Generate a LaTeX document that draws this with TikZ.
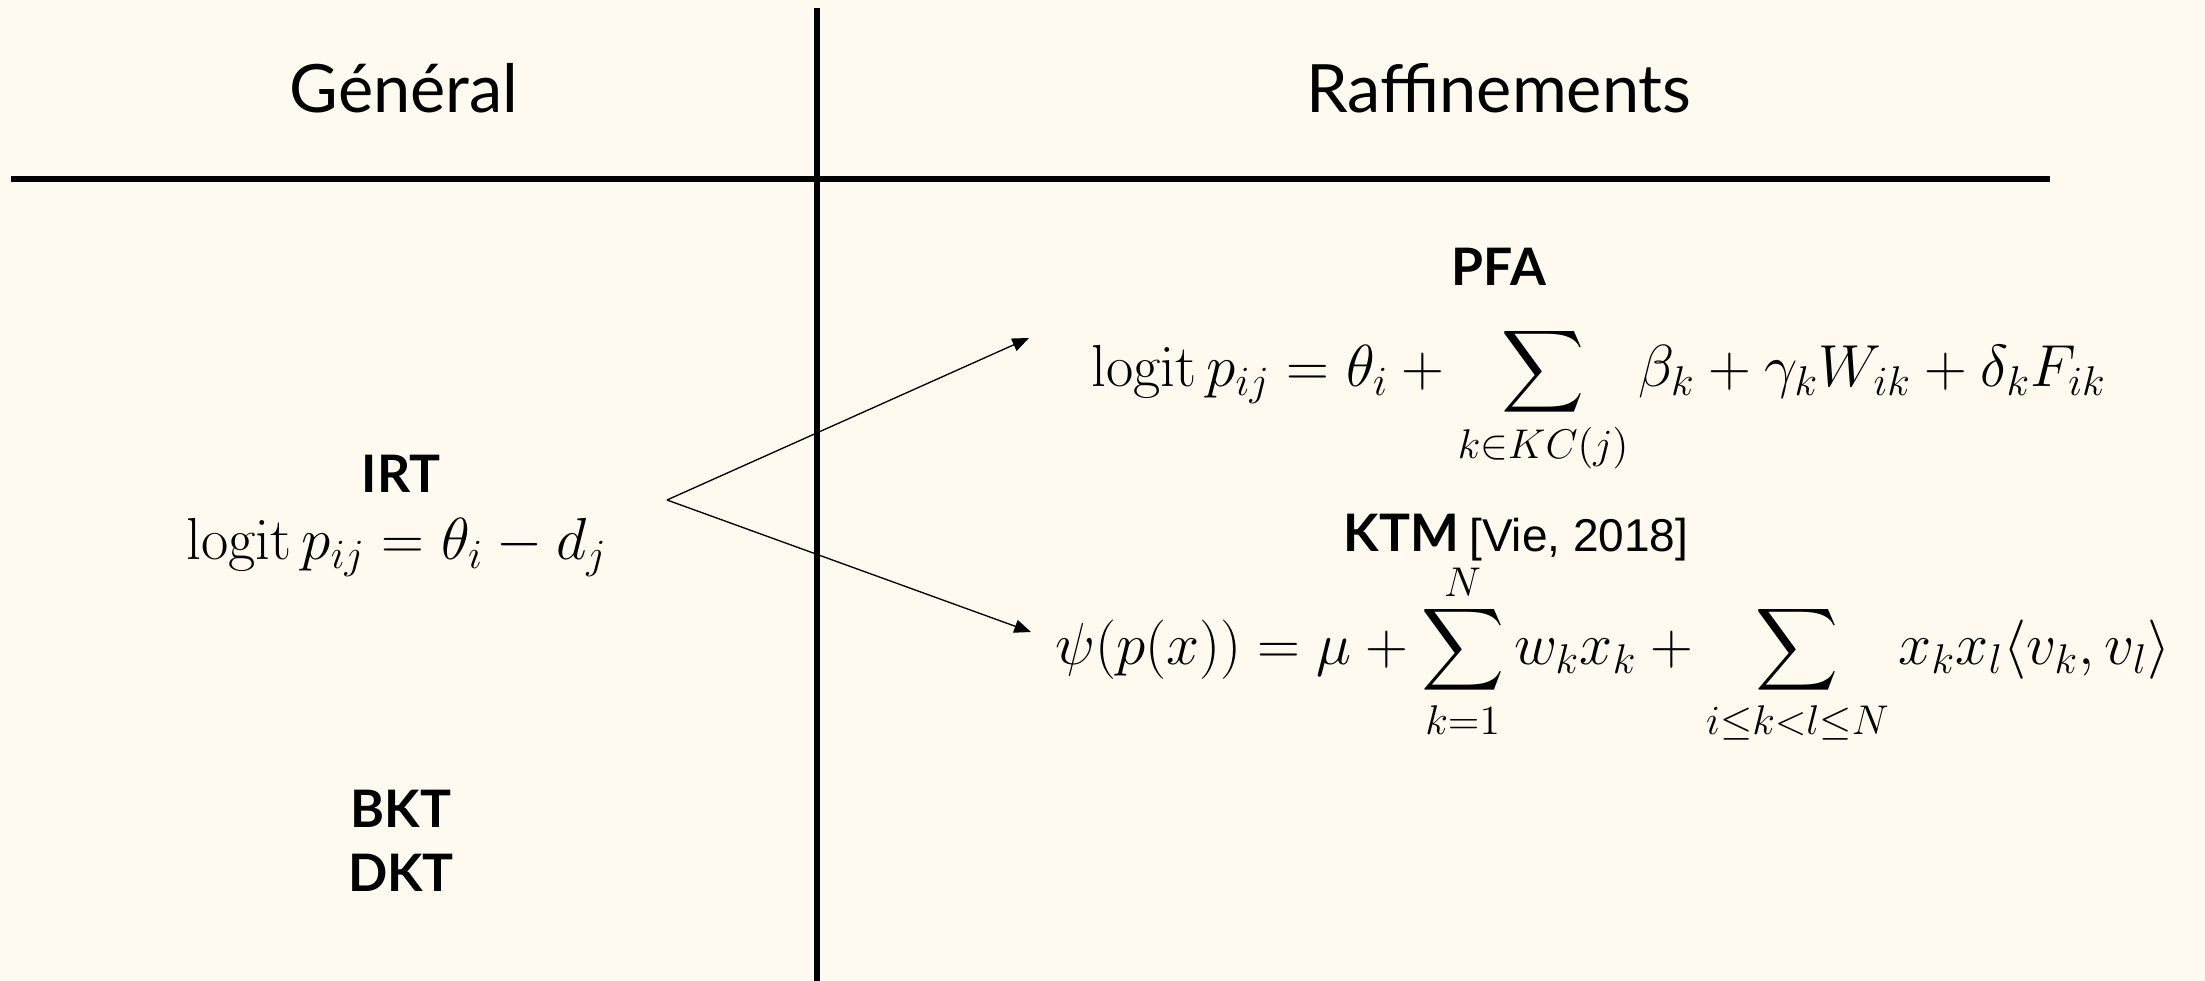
\RequirePackage{fix-cm}
\documentclass[tikz,border=0pt]{standalone}
\usepackage{amsmath}
\usepackage[no-math]{fontspec}
\setmainfont{Lato}
\newfontfamily\citefont{Liberation Sans}
\usetikzlibrary{arrows.meta}
\definecolor{bg}{HTML}{FFFAF0}
\tikzset{
  header/.style={anchor=base, inner sep=0pt, font=\fontsize{20}{24}\selectfont},
  label/.style={anchor=base, inner sep=0pt, font=\fontsize{15.5}{18}\selectfont\bfseries},
  formula/.style={anchor=base, inner sep=0pt, font=\fontsize{17.8}{21}\selectfont},
  rule/.style={line width=2pt},
  conn/.style={line width=0.4pt, -{Triangle[length=5pt,width=4pt]}},
}
\begin{document}
\begin{tikzpicture}[x=0.3pt, y=-0.3pt]
\fill[bg] (0,0) rectangle (2205,981);
\useasboundingbox (0,0) rectangle (2205,981);
% rules
\coordinate (vtop) at (817,8);
\coordinate (vbot) at (817,981);
\coordinate (hleft) at (11,179);
\coordinate (hright) at (2050,179);
\draw[rule] (vtop) -- (vbot);
\draw[rule] (hleft) -- (hright);
% headers
\node[header] (gen) at (404,113) {Général};
\node[header] (raf) at (1499,113) {Raffinements};
% left column
\node[label] (irt) at (401,493) {IRT};
\node[formula] (irtf) at (397,560) {$\displaystyle \operatorname{logit} p_{ij} = \theta_i - d_j$};
\node[label] (bkt) at (401,828) {BKT};
\node[label] (dkt) at (401,892) {DKT};
% right column
\node[label] (pfa) at (1499,286) {PFA};
\node[formula] (pfaf) at (1599,387) {$\displaystyle \operatorname{logit} p_{ij} = \theta_i + \sum_{k \in KC(j)} \beta_k + \gamma_k W_{ik} + \delta_k F_{ik}$};
\node[label] (ktm) at (1516,552) {KTM\hspace{0.2em}{\mdseries\citefont\fontsize{13.8}{16}\selectfont [Vie, 2018]}};
\node[formula] (ktmf) at (1613,665) {$\displaystyle \psi(p(x)) = \mu + \sum_{k=1}^{\smash{\raisebox{-1.3pt}{$\scriptstyle N$}}} w_k x_k + \sum_{i \leq k < l \leq N} x_k x_l \langle v_k, v_l \rangle$};
% arrows
\coordinate (fork) at (667,500);
\coordinate (pfatip) at (1029,338);
\coordinate (ktmtip) at (1031,632);
\draw[conn] (fork) -- (pfatip);
\draw[conn] (fork) -- (ktmtip);
\end{tikzpicture}
\end{document}
